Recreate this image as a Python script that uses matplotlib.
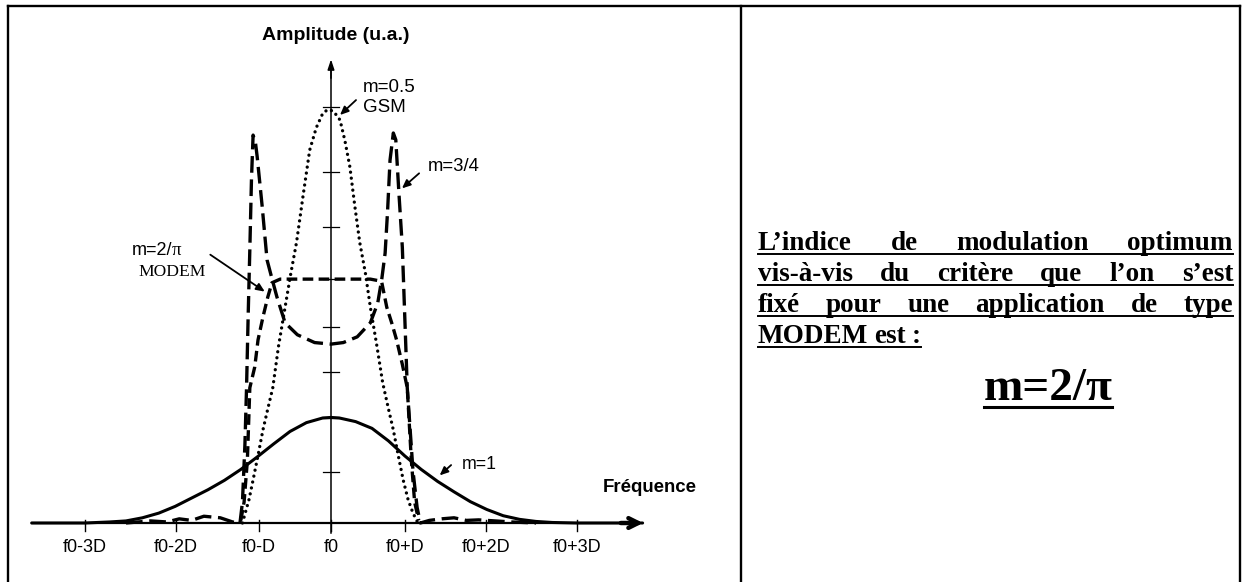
import matplotlib
matplotlib.use("Agg")
import matplotlib.pyplot as plt
from matplotlib.lines import Line2D

# frequency offset from f0 in units of D, amplitude in arbitrary units
x_m05 = [-1.08, -1.0, -0.95, -0.89, -0.83, -0.77, -0.71, -0.64, -0.56, -0.49, -0.42, -0.34,
         -0.26, -0.18, -0.1, -0.04, 0.03, 0.11, 0.17, 0.23, 0.29, 0.35, 0.42, 0.48, 0.56,
         0.63, 0.7, 0.76, 0.82, 0.88, 0.94, 1.0, 1.06]
y_m05 = [0.0, 0.45, 0.83, 1.3, 1.79, 2.2, 2.6, 3.4, 4.15, 4.8, 5.4, 6.3,
         7.17, 7.6, 7.88, 7.95, 7.92, 7.75, 7.35, 6.85, 6.1, 5.4, 4.8, 4.15, 3.4,
         2.7, 2.2, 1.79, 1.3, 0.83, 0.45, 0.19, 0.0]

x_m34 = [-2.5, -2.2, -2.0, -1.85, -1.7, -1.55, -1.35, -1.2, -1.11, -1.08, -1.05, -1.03,
         -1.01, -0.99, -0.97, -0.95, -0.92, -0.9, -0.84, -0.78, -0.72, -0.66, -0.56, -0.41,
         -0.2, 0.0, 0.15, 0.32, 0.48, 0.57, 0.62, 0.66, 0.69, 0.72, 0.76, 0.79, 0.83, 0.87,
         0.93, 1.0, 1.05, 1.09, 1.2, 1.35, 1.5, 1.65, 1.8, 2.0, 2.2, 2.5]
y_m34 = [0.0, 0.04, 0.02, 0.08, 0.05, 0.13, 0.1, 0.02, 0.0, 0.4, 1.5, 2.6,
         4.0, 5.25, 6.6, 7.46, 7.3, 7.04, 6.1, 5.06, 4.7, 4.35, 3.85, 3.62,
         3.47, 3.44, 3.47, 3.58, 3.85, 4.23, 4.7, 5.19, 6.0, 6.98, 7.5, 7.37, 6.3, 5.3,
         2.6, 1.0, 0.3, 0.0, 0.05, 0.08, 0.1, 0.05, 0.06, 0.04, 0.02, 0.0]

x_m2pi = [-1.1, -1.06, -1.02, -0.99, -0.93, -0.89, -0.83, -0.77, -0.72, -0.62, -0.4, -0.2,
          0.0, 0.2, 0.48, 0.58, 0.62, 0.68, 0.74, 0.8, 0.87, 0.93, 0.98, 1.02, 1.07]
y_m2pi = [0.05, 0.4, 1.2, 2.6, 3.0, 3.52, 3.96, 4.35, 4.62, 4.69, 4.69, 4.69,
          4.69, 4.69, 4.69, 4.66, 4.62, 4.15, 3.85, 3.52, 3.05, 2.6, 1.2, 0.4, 0.05]

x_m1 = [-3.65, -3.0, -2.7, -2.5, -2.3, -2.1, -1.9, -1.7, -1.5, -1.3, -1.1, -0.9, -0.7,
        -0.5, -0.3, -0.1, 0.0, 0.1, 0.3, 0.5, 0.7, 0.9, 1.1, 1.3, 1.5, 1.7, 1.9, 2.1,
        2.3, 2.5, 2.7, 3.0, 3.8]
y_m1 = [0.0, 0.0, 0.02, 0.04, 0.1, 0.19, 0.32, 0.48, 0.64, 0.82, 1.03, 1.27, 1.52,
        1.76, 1.93, 2.02, 2.03, 2.02, 1.95, 1.82, 1.58, 1.29, 1.03, 0.8, 0.6, 0.41, 0.26, 0.14,
        0.07, 0.03, 0.01, 0.0, 0.0]

x_ticks = [-3.0, -1.89, -0.88, 0.0, 0.9, 1.89, 3.0]
x_labels = ['f0-3D', 'f0-2D', 'f0-D', 'f0', 'f0+D', 'f0+2D', 'f0+3D']
y_ticks = [0.98, 2.02, 2.91, 3.77, 4.69, 5.69, 6.75, 8.0]

text_lines = [
    ['L’indice', 'de', 'modulation', 'optimum'],
    ['vis-à-vis', 'du', 'critère', 'que', 'l’on', 's’est'],
    ['fixé', 'pour', 'une', 'application', 'de', 'type'],
    ['MODEM', 'est', ':'],
]
conclusion = 'm=2/π'

W, H = 1245, 582
SANS = 'Liberation Sans'
SERIF = 'Liberation Serif'


def fx(px):
    return px / W


def fy(py):
    return 1 - py / H


fig = plt.figure(figsize=(W / 100, H / 100), dpi=100)
fig.patch.set_facecolor('white')

# one axes over the whole figure: 82 px per D, 52 px per amplitude unit
ax = fig.add_axes([0, 0, 1, 1])
ax.set_xlim(-331 / 82, (W - 331) / 82)
ax.set_ylim((523 - H) / 52, 523 / 52)
ax.set_axis_off()

# frame of the table cells
for xs, ys in [([8, 1240], [6, 6]), ([8, 8], [6, 582]), ([741, 741], [6, 582]),
               ([1240, 1240], [6, 582])]:
    fig.add_artist(Line2D([fx(v) for v in xs], [fy(v) for v in ys], color='k', lw=1.7))

# axes of the sketch
ax.plot([-3.65, 3.7], [0, 0], color='k', lw=1.6)
ax.annotate('', xy=(3.84, 0), xytext=(3.5, 0),
            arrowprops=dict(arrowstyle='->, head_length=0.7, head_width=0.35', color='k', lw=3.2))
ax.plot([0, 0], [-0.2, 8.7], color='k', lw=1.1)
ax.annotate('', xy=(0, 8.97), xytext=(0, 8.5),
            arrowprops=dict(arrowstyle='-|>, head_length=0.6, head_width=0.2', color='k', lw=1.1))
for t in y_ticks:
    ax.plot([-0.1, 0.1], [t, t], color='k', lw=0.9)
for t, lab in zip(x_ticks, x_labels):
    ax.plot([t, t], [0.05, -0.15], color='k', lw=1.0)
    ax.text(t, -0.48, lab, ha='center', va='center', fontsize=13, family=SANS)

# spectra
ax.plot(x_m1, y_m1, color='k', lw=2.2, solid_capstyle='round')
ax.plot(x_m05, y_m05, color='k', lw=2.4, linestyle=(0, (0.01, 1.8)), dash_capstyle='round')
ax.plot(x_m34, y_m34, color='k', lw=2.4, linestyle=(0, (5, 2)))
ax.plot(x_m2pi, y_m2pi, color='k', lw=2.4, linestyle=(0, (3.2, 1.6)))

ax.text(0.06, 9.38, 'Amplitude (u.a.)', ha='center', va='center', fontsize=14,
        family=SANS, weight='bold')
ax.text(3.32, 0.69, 'Fréquence', ha='left', va='center', fontsize=13.4,
        family=SANS, weight='bold')

arrow = dict(arrowstyle='-|>, head_length=0.5, head_width=0.22', color='k', lw=1.3)
ax.text(0.39, 8.38, 'm=0.5', ha='left', va='center', fontsize=13.5, family=SANS)
ax.text(0.39, 8.0, 'GSM', ha='left', va='center', fontsize=13.5, family=SANS)
ax.annotate('', xy=(0.085, 7.81), xytext=(0.33, 8.17), arrowprops=arrow)
ax.text(1.18, 6.85, 'm=3/4', ha='left', va='center', fontsize=13.3, family=SANS)
ax.annotate('', xy=(0.84, 6.4), xytext=(1.1, 6.76), arrowprops=arrow)
ax.text(-2.43, 5.25, 'm=2/', ha='left', va='center', fontsize=13, family=SANS)
ax.text(-1.94, 5.25, 'π', ha='left', va='center', fontsize=13.5, family=SERIF)
ax.text(-2.35, 4.83, 'MODEM', ha='left', va='center', fontsize=12.6, family=SERIF)
ax.annotate('', xy=(-0.78, 4.42), xytext=(-1.5, 5.19), arrowprops=arrow)
ax.text(1.6, 1.13, 'm=1', ha='left', va='center', fontsize=12.8, family=SANS)
ax.annotate('', xy=(1.3, 0.88), xytext=(1.49, 1.15), arrowprops=arrow)

# right cell: justified, bold, underlined paragraph
renderer = fig.canvas.get_renderer()
style = dict(fontsize=19.5, family=SERIF, weight='bold', va='baseline', ha='left')
x0, x1 = 758, 1233
baselines = [250, 281, 312, 343]
for i, (words, base) in enumerate(zip(text_lines, baselines)):
    texts = [fig.text(0, fy(base), w, **style) for w in words]
    widths = [t.get_window_extent(renderer).width for t in texts]
    if i < len(text_lines) - 1:
        gap = (x1 - x0 - sum(widths)) / (len(words) - 1)
    else:
        gap = 6
    pos = x0
    for t, w in zip(texts, widths):
        t.set_x(fx(pos))
        pos += w + gap
    end = pos - gap
    fig.add_artist(Line2D([fx(x0), fx(end)], [fy(base + 4), fy(base + 4)], color='k', lw=1.4))

big = fig.text(fx(1048), fy(400), conclusion, fontsize=34, family=SERIF, weight='bold',
               ha='center', va='baseline')
bw = big.get_window_extent(renderer).width
fig.add_artist(Line2D([fx(1048 - bw / 2), fx(1048 + bw / 2)], [fy(407), fy(407)],
                      color='k', lw=2.2))

fig.savefig('out.png', dpi=100, facecolor='white')
